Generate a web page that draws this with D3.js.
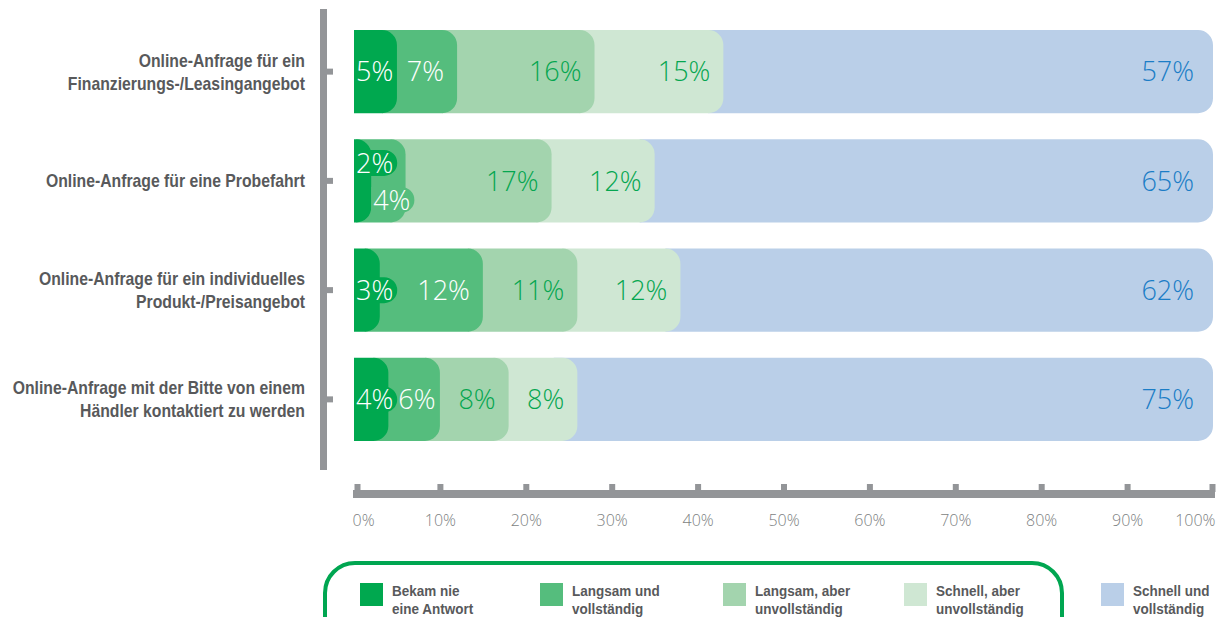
<!DOCTYPE html>
<html>
<head>
<meta charset="utf-8">
<script src="https://cdn.jsdelivr.net/npm/d3@7"></script>
<style>
  html, body { margin: 0; padding: 0; background: #fff; }
  svg { display: block; }
</style>
</head>
<body>
<svg id="chart" width="1217" height="617"></svg>
<script>
// Rows of the chart (line breaks mark the wrapped label lines)
const categories = [
  "Online-Anfrage für ein\nFinanzierungs-/Leasingangebot",
  "Online-Anfrage für eine Probefahrt",
  "Online-Anfrage für ein individuelles\nProdukt-/Preisangebot",
  "Online-Anfrage mit der Bitte von einem\nHändler kontaktiert zu werden"
];
const seriesNames = [
  "Bekam nie\neine Antwort",
  "Langsam und\nvollständig",
  "Langsam, aber\nunvollständig",
  "Schnell, aber\nunvollständig",
  "Schnell und\nvollständig"
];
// Share per row (percent), one array per answer type
const neverAnswered      = [5, 2, 3, 4];
const slowComplete       = [7, 4, 12, 6];
const slowIncomplete     = [16, 17, 11, 8];
const fastIncomplete     = [15, 12, 12, 8];
const fastComplete       = [57, 65, 62, 75];
const tickValues = [0, 10, 20, 30, 40, 50, 60, 70, 80, 90, 100];

const series = [neverAnswered, slowComplete, slowIncomplete, fastIncomplete, fastComplete];
const fills = ["#00a84f", "#55bd7d", "#a3d4ae", "#cfe7d3", "#bacfe8"];
const labelColors = ["#ffffff", "#ffffff", "#05a650", "#05a650", "#1b7dc6"];

const svg = d3.select("#chart");
const labelFont = "'Liberation Sans', Arial, sans-serif";
const valueFont = "'Open Sans', 'Lato', 'Noto Sans', sans-serif";

const x = d3.scaleLinear().domain([0, 100]).range([354, 1213]);
const y = d3.scaleBand().domain(categories).range([17, 454]).paddingInner(0.24).paddingOuter(0.12);
const bh = y.bandwidth();
const r = 15;

// bar shape: square left edge, rounded right corners
function rightRounded(x0, x1, top, h, rad) {
  const rr = Math.min(rad, (x1 - x0), h / 2);
  return `M${x0},${top}H${x1 - rr}A${rr},${rr} 0 0 1 ${x1},${top + rr}` +
         `V${top + h - rr}A${rr},${rr} 0 0 1 ${x1 - rr},${top + h}H${x0}Z`;
}

// ---- left category axis: thick rule with a small tick at every bar ----
const axisG = svg.append("g").attr("class", "cat-axis");
axisG.append("rect").attr("x", 320).attr("y", 9).attr("width", 7).attr("height", 461).attr("fill", "#939598");
axisG.selectAll("rect.cat-tick")
  .data(categories)
  .join("rect")
  .attr("class", "cat-tick")
  .attr("x", 322).attr("width", 11)
  .attr("y", d => y(d) + bh / 2 - 3).attr("height", 6)
  .attr("fill", "#939598");

// condensed bold category labels, right-aligned against the axis
categories.forEach(c => {
  const lines = c.split("\n");
  const cy = y(c) + bh / 2;
  const t = svg.append("text")
    .attr("transform", "translate(305,0) scale(0.83,1)")
    .attr("text-anchor", "end")
    .attr("font-family", labelFont)
    .attr("font-weight", "bold")
    .attr("font-size", 19)
    .attr("fill", "#58595b");
  lines.forEach((ln, i) => {
    t.append("tspan").attr("x", 0)
      .attr("y", cy + 6.5 + (i - (lines.length - 1) / 2) * 23)
      .text(ln);
  });
});

// ---- stacked bars ----
const rows = categories.map((c, ri) => {
  let cum = 0;
  return series.map((s, si) => {
    const v = s[ri];
    // the last segment is anchored at 100 %
    const start = si === series.length - 1 ? 100 - v : cum;
    const end = start + v;
    cum += v;
    return { c, ri, si, v, start, end };
  });
});

const barG = svg.append("g");
rows.forEach(segs => {
  const top = y(segs[0].c);
  for (let i = segs.length - 1; i >= 0; i--) {
    const s = segs[i];
    const x0 = Math.max(x(0), x(s.start) - r);
    barG.append("path")
      .attr("d", rightRounded(x0, x(s.end), top, bh, r))
      .attr("fill", fills[s.si]);
  }
});

// ---- value labels ----
const labelG = svg.append("g");
rows.forEach(segs => {
  const cy = y(segs[0].c) + bh / 2;
  let prevEnd = -Infinity;
  let prev = null;
  segs.forEach(s => {
    const t = labelG.append("text")
      .attr("font-family", valueFont)
      .attr("font-weight", 300)
      .attr("font-size", 27)
      .attr("fill", labelColors[s.si])
      .attr("dy", "0.36em")
      .text(s.v + "%");
    const w = t.node().getComputedTextLength();
    const sx = x(s.start), ex = x(s.end);
    let pos;
    if (s.si === segs.length - 1) {
      pos = ex - 19 - w;
    } else {
      pos = Math.max(sx + 2, ex - 13 - w);
    }
    let dyOff = 0;
    if (pos < prevEnd + 5) {
      const shifted = prevEnd + 5;
      if (shifted + w <= ex + 1) {
        pos = shifted;
      } else {
        // not enough room side by side: stack the two labels
        dyOff = 19;
        prev.offset = -18;
      }
    }
    s.label = t; s.pos = pos; s.w = w; s.offset = dyOff;
    prevEnd = pos + w;
    prev = s;
  });
  segs.forEach(s => {
    s.label.attr("x", s.pos).attr("y", cy + s.offset);
    const ex = x(s.end);
    // pill in the segment colour where the label runs past its segment
    if (s.pos + s.w + 2 > ex && s.si < segs.length - 1) {
      const ph = 26;
      labelG.insert("path", "text")
        .attr("d", rightRounded(x(s.start), s.pos + s.w + 4, cy + s.offset - ph / 2, ph, ph / 2))
        .attr("fill", fills[s.si]);
    }
  });
});

// ---- bottom percentage axis ----
const xAxis = svg.append("g").attr("transform", "translate(0,494)")
  .call(d3.axisBottom(x).tickValues(tickValues).tickSizeOuter(0).tickSize(-10).tickFormat(d => d + "%"));
xAxis.select(".domain").attr("stroke", "#939598").attr("stroke-width", 8)
  .attr("d", `M${x(0) - 1},0H${x(100) + 2}`);
xAxis.selectAll(".tick line")
  .attr("stroke", "#939598").attr("stroke-width", 6).attr("y1", -2)
  .attr("transform", d => d === 0 ? "translate(3,0)" : d === 100 ? "translate(-1,0)" : null);
xAxis.selectAll(".tick text")
  .attr("y", 26).attr("dy", "0.35em")
  .attr("font-family", valueFont).attr("font-weight", 300).attr("font-size", 16)
  .attr("fill", "#7d7f82")
  .attr("text-anchor", d => d === 0 ? "start" : d === 100 ? "end" : "middle")
  .attr("dx", d => d === 0 ? -2 : d === 100 ? 2 : 0);

// ---- legend ----
svg.append("rect")
  .attr("x", 325).attr("y", 563).attr("width", 737).attr("height", 120).attr("rx", 30)
  .attr("fill", "none").attr("stroke", "#00a651").attr("stroke-width", 4);
const legendX = [360, 540, 723, 904, 1101];
seriesNames.forEach((n, i) => {
  const g = svg.append("g").attr("transform", `translate(${legendX[i]},583)`);
  g.append("rect").attr("width", 23).attr("height", 23).attr("fill", fills[i]);
  const t = g.append("text")
    .attr("transform", "translate(32,0) scale(0.9,1)")
    .attr("font-family", labelFont).attr("font-weight", "bold").attr("font-size", 15)
    .attr("fill", "#58595b");
  n.split("\n").forEach((ln, j) => {
    t.append("tspan").attr("x", 0).attr("y", 13 + j * 18.5).text(ln);
  });
});
</script>
</body>
</html>
